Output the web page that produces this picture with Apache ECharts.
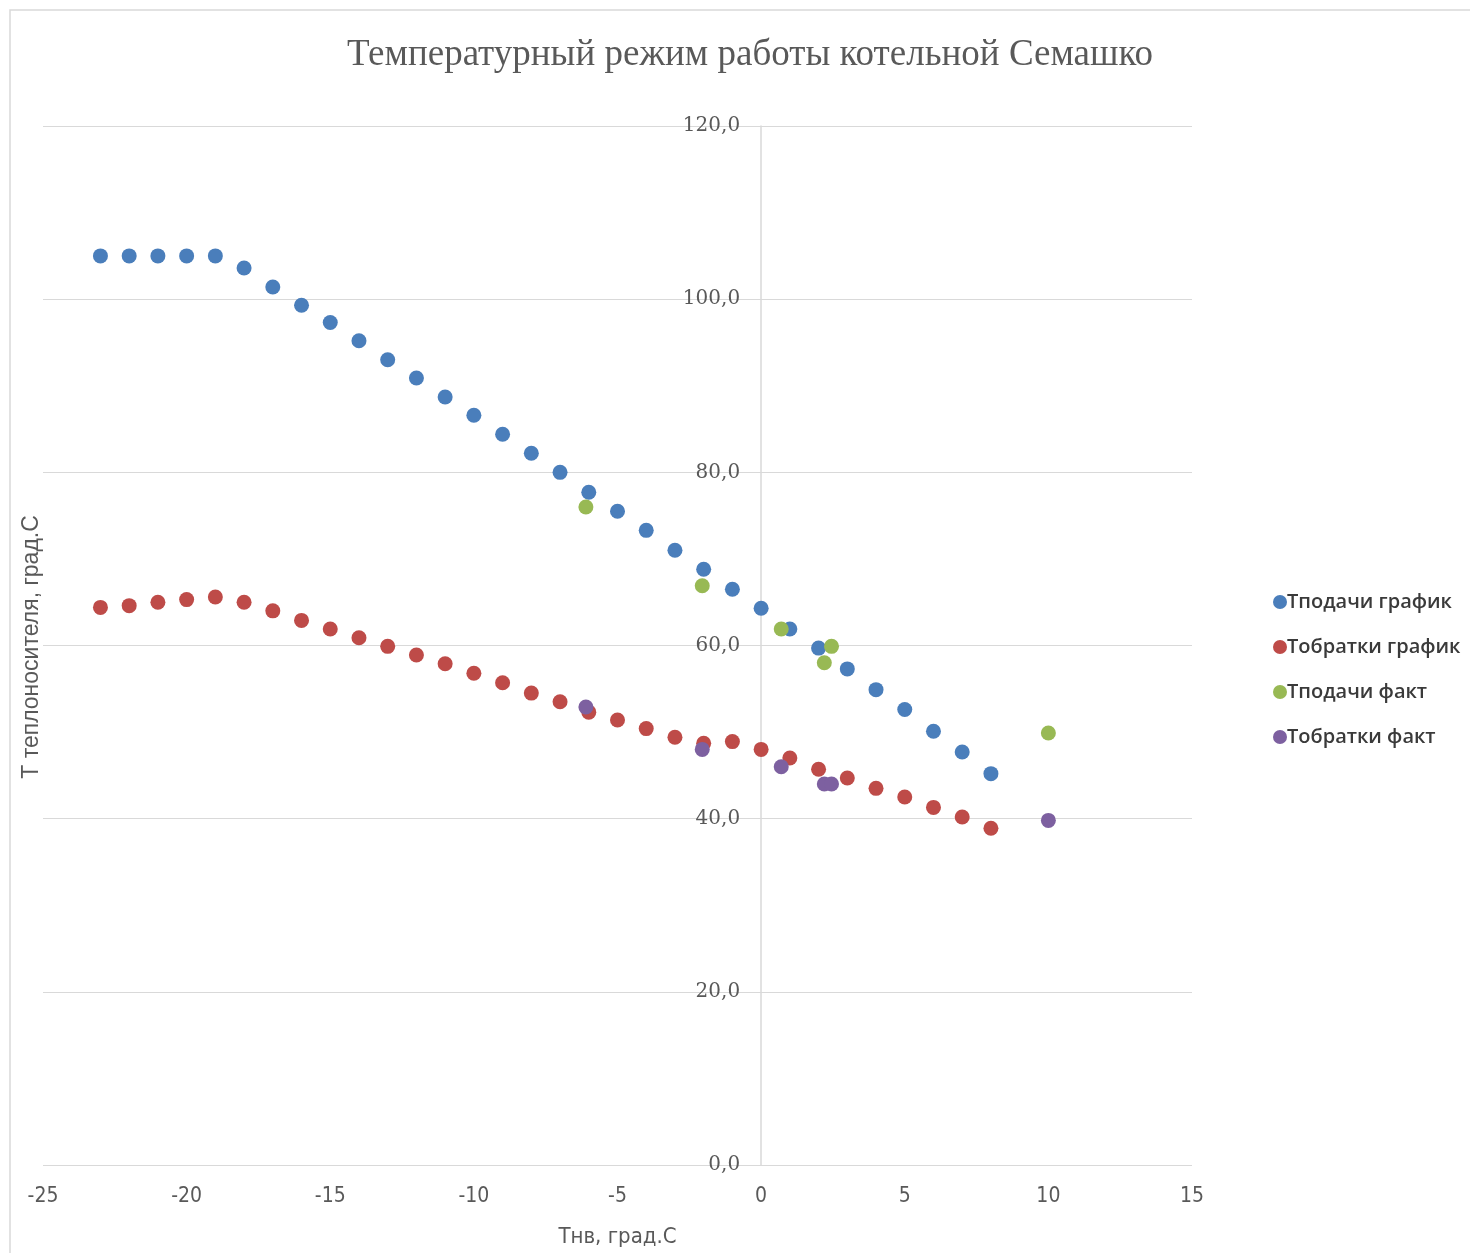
<!DOCTYPE html>
<html><head><meta charset="utf-8">
<script src="https://cdn.jsdelivr.net/npm/echarts@6/dist/echarts.min.js"></script>
<style>html,body{margin:0;padding:0;background:#fff}#c{width:1470px;height:1253px}</style>
</head><body><div id="c"></div>
<script>
const titleText = 'Температурный режим работы котельной Семашко';
const xName = 'Тнв, град.С';
const yName = 'Т теплоносителя, град.С';
const seriesNames = ['Тподачи график', 'Тобратки график', 'Тподачи факт', 'Тобратки факт'];

const schedX = [-23,-22,-21,-20,-19,-18,-17,-16,-15,-14,-13,-12,-11,-10,-9,-8,-7,-6,-5,-4,-3,-2,-1,0,1,2,3,4,5,6,7,8];
const supplySched = [105,105,105,105,105,103.6,101.4,99.3,97.3,95.2,93.0,90.9,88.7,86.6,84.4,82.2,80.0,77.7,75.5,73.3,71.0,68.8,66.5,64.3,61.9,59.7,57.3,54.9,52.6,50.1,47.7,45.2];
const returnSched = [64.4,64.6,65.0,65.3,65.6,65.0,64.0,62.9,61.9,60.9,59.9,58.9,57.9,56.8,55.7,54.5,53.5,52.3,51.4,50.4,49.4,48.7,48.9,48.0,47.0,45.7,44.7,43.5,42.5,41.3,40.2,38.9];

const factX = [-6.1,-2.05,0.7,2.2,2.45,10];
const supplyFact = [76.0,66.9,61.9,58.0,59.9,49.9];
const returnFact = [52.9,48.0,46.0,44.0,44.0,39.8];

const xTicks = {min:-25, max:15, interval:5};
const yTicks = {min:0, max:120, interval:20};

const colors = ['#4A7EBB','#BE4B48','#98B954','#7D60A0'];
const pair = (xs, ys) => xs.map((x,i)=>[x, ys[i]]);

const gridLeft = 43, gridRight = 278;
const plotW = 1470 - gridLeft - gridRight;
const yAxisOffset = -plotW * (0 - xTicks.min) / (xTicks.max - xTicks.min);

const chart = echarts.init(document.getElementById('c'));
chart.setOption({
  animation:false,
  color: colors,
  title:{text:titleText, left:745, textAlign:'center', top:32, textStyle:{fontFamily:'Liberation Serif, serif', fontSize:37, fontWeight:'normal', color:'#595959'}},
  legend:{orient:'vertical', left:1268, top:587, itemGap:25, itemWidth:14, itemHeight:14, icon:'circle',
    textStyle:{fontFamily:'Open Sans, sans-serif', fontSize:20, fontWeight:600, color:'#3a3a3a', padding:[0,0,0,-5]},
    data: seriesNames},
  grid:{left:gridLeft, right:gridRight, top:126, bottom:88, containLabel:false, outerBoundsMode:'none'},
  xAxis:{type:'value', min:xTicks.min, max:xTicks.max, interval:xTicks.interval,
    name:xName, nameLocation:'middle', nameGap:61,
    nameTextStyle:{fontFamily:'Liberation Sans Narrow, DejaVu Sans Condensed, sans-serif', fontSize:22, color:'#595959'},
    axisLine:{show:false}, axisTick:{show:false}, splitLine:{show:false},
    axisLabel:{margin:21, fontFamily:'Liberation Sans Narrow, DejaVu Sans Condensed, sans-serif', fontSize:21, color:'#595959'}},
  yAxis:{type:'value', min:yTicks.min, max:yTicks.max, interval:yTicks.interval, offset:yAxisOffset,
    axisLine:{show:true, onZero:false, lineStyle:{color:'#d9d9d9', width:1.5}}, axisTick:{show:false},
    splitLine:{show:true, lineStyle:{color:'#d9d9d9', width:1.2}},
    axisLabel:{margin:21, fontFamily:'DejaVu Serif, serif', fontSize:20, color:'#595959',
      formatter:v=>v.toFixed(1).replace('.',',')}},
  graphic:[
    {type:'text', x:32, y:647, rotation:Math.PI/2, style:{text:yName, align:'center', verticalAlign:'middle', fontFamily:'Liberation Sans, sans-serif', fontSize:23, fill:'#595959'}},
    {type:'polyline', shape:{points:[[10,1253],[10,10],[1470,10]]}, style:{stroke:'#d9d9d9', lineWidth:1.5, fill:null}}
  ],
  series:[
    {name:seriesNames[0], type:'scatter', symbolSize:15, itemStyle:{opacity:1}, data:pair(schedX, supplySched)},
    {name:seriesNames[1], type:'scatter', symbolSize:15, itemStyle:{opacity:1}, data:pair(schedX, returnSched)},
    {name:seriesNames[2], type:'scatter', symbolSize:15, itemStyle:{opacity:1}, data:pair(factX, supplyFact)},
    {name:seriesNames[3], type:'scatter', symbolSize:15, itemStyle:{opacity:1}, data:pair(factX, returnFact)}
  ]
});
</script></body></html>
